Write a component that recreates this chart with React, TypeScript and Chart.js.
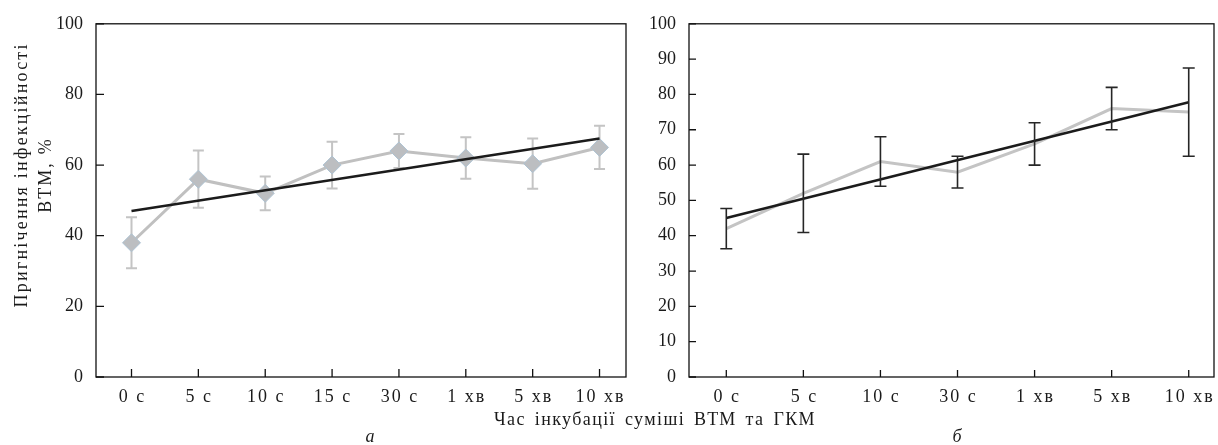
import React, { useEffect, useRef } from 'react';
import { Chart, registerables } from 'chart.js';

Chart.register(...registerables);

// ---- data (panel а) ----
const catsA = ['0 с', '5 с', '10 с', '15 с', '30 с', '1 хв', '5 хв', '10 хв'];
const meanA = [38, 56, 52, 60, 64, 62, 60.4, 65];
const errA = [7.2, 8.1, 4.8, 6.6, 4.8, 5.9, 7.1, 6.1];
const trendA = [47, 67.5];
const yTicksA = [0, 20, 40, 60, 80, 100];

// ---- data (panel б) ----
const catsB = ['0 с', '5 с', '10 с', '30 с', '1 хв', '5 хв', '10 хв'];
const meanB = [42, 52, 61, 58, 66, 76, 75];
const errB = [5.7, 11.1, 7, 4.5, 6, 6, 12.5];
const trendB = [45, 77.8];
const yTicksB = [0, 10, 20, 30, 40, 50, 60, 70, 80, 90, 100];

const yTitle = ['Пригнічення інфекційності', 'ВТМ, %'];
const xTitle = 'Час інкубації суміші ВТМ та ГКМ';
const panelA = 'а';
const panelB = 'б';

const FONT = '"Liberation Serif", "Times New Roman", serif';
const TXT = '#1a1a1a';

type OverlayCfg = {
  cats: string[];
  means: number[];
  errs: number[];
  errColor: string;
  errWidth: number;
  capHalf: number;
  layer: 'before' | 'after';
  tickLen: number;
  title?: string[];
};

function makeOverlay(cfg: OverlayCfg) {
  const drawErr = (chart: any) => {
    const ctx = chart.ctx;
    const xs = chart.scales.x;
    const ys = chart.scales.y;
    ctx.save();
    ctx.strokeStyle = cfg.errColor;
    ctx.lineWidth = cfg.errWidth;
    cfg.means.forEach((m, i) => {
      const x = xs.getPixelForValue(i);
      const y1 = ys.getPixelForValue(m + cfg.errs[i]);
      const y2 = ys.getPixelForValue(m - cfg.errs[i]);
      ctx.beginPath();
      ctx.moveTo(x, y1);
      ctx.lineTo(x, y2);
      ctx.moveTo(x - cfg.capHalf, y1);
      ctx.lineTo(x + cfg.capHalf, y1);
      ctx.moveTo(x - cfg.capHalf, y2);
      ctx.lineTo(x + cfg.capHalf, y2);
      ctx.stroke();
    });
    ctx.restore();
  };
  const drawFrame = (chart: any) => {
    const ctx = chart.ctx;
    const { left, right, top, bottom } = chart.chartArea;
    const xs = chart.scales.x;
    const ys = chart.scales.y;
    ctx.save();
    ctx.strokeStyle = '#111';
    ctx.lineWidth = 1.3;
    ctx.strokeRect(left, top, right - left, bottom - top);
    ctx.beginPath();
    ys.ticks.forEach((t: any) => {
      const y = ys.getPixelForValue(t.value);
      ctx.moveTo(left, y);
      ctx.lineTo(left + cfg.tickLen, y);
    });
    xs.ticks.forEach((t: any) => {
      const x = xs.getPixelForValue(t.value);
      ctx.moveTo(x, bottom);
      ctx.lineTo(x, bottom - cfg.tickLen);
    });
    ctx.stroke();

    // category labels (wider letter spacing, like the original typesetting)
    ctx.font = `18px ${FONT}`;
    ctx.fillStyle = TXT;
    ctx.textAlign = 'center';
    ctx.textBaseline = 'alphabetic';
    ctx.letterSpacing = '2px';
    cfg.cats.forEach((c, i) => {
      const x = xs.getPixelForValue(i);
      ctx.fillText(c, x + 1, bottom + 24.7);
    });

    // y axis title
    if (cfg.title) {
      ctx.letterSpacing = '2.2px';
      ctx.translate(0, 176);
      ctx.rotate(-Math.PI / 2);
      ctx.fillText(cfg.title[0], 1.1, 27);
      ctx.fillText(cfg.title[1], 1.1, 51);
    }
    ctx.restore();
  };
  return {
    id: 'overlay',
    beforeDatasetsDraw(chart: any) {
      if (cfg.layer === 'before') drawErr(chart);
    },
    afterDatasetsDraw(chart: any) {
      if (cfg.layer === 'after') drawErr(chart);
      drawFrame(chart);
    },
  };
}

function buildConfig(opts: {
  cats: string[];
  means: number[];
  trend: number[];
  yTicks: number[];
  xMin: number;
  xMax: number;
  yWidth: number;
  padRight: number;
  lineColor: string;
  markers: boolean;
  overlay: any;
}) {
  const n = opts.cats.length;
  return {
    type: 'line' as const,
    data: {
      datasets: [
        {
          label: 'trend',
          data: [
            { x: 0, y: opts.trend[0] },
            { x: n - 1, y: opts.trend[1] },
          ],
          borderColor: '#1b1b1b',
          borderWidth: 2.6,
          pointRadius: 0,
          tension: 0,
        },
        {
          label: 'values',
          data: opts.means.map((v, i) => ({ x: i, y: v })),
          borderColor: opts.lineColor,
          borderWidth: 3,
          tension: 0,
          pointStyle: 'rectRot',
          pointRadius: opts.markers ? 9 : 0,
          pointBackgroundColor: '#bcbec1',
          pointBorderColor: '#aec3d3',
          pointBorderWidth: 1,
        },
      ],
    },
    options: {
      responsive: false,
      animation: false as const,
      devicePixelRatio: 1,
      layout: { padding: { top: 14, right: opts.padRight, bottom: 0, left: 0 } },
      plugins: {
        legend: { display: false },
        tooltip: { enabled: false },
      },
      scales: {
        x: {
          type: 'linear' as const,
          min: opts.xMin,
          max: opts.xMax,
          grid: { display: false, drawTicks: false },
          border: { display: false },
          afterBuildTicks: (scale: any) => {
            scale.ticks = opts.cats.map((_, i) => ({ value: i }));
          },
          afterFit: (scale: any) => {
            scale.height = 68;
          },
          ticks: { display: false },
        },
        y: {
          min: 0,
          max: 100,
          grid: { display: false, drawTicks: false },
          border: { display: false },
          afterBuildTicks: (scale: any) => {
            scale.ticks = opts.yTicks.map((v) => ({ value: v }));
          },
          afterFit: (scale: any) => {
            scale.width = opts.yWidth;
          },
          ticks: {
            padding: 13,
            color: TXT,
            font: { family: FONT, size: 18 },
          },
        },
      },
    },
    plugins: [opts.overlay],
  };
}

function Panel(props: { left: number; width: number; cfg: any }) {
  const ref = useRef<HTMLCanvasElement | null>(null);
  useEffect(() => {
    if (!ref.current) return;
    const chart = new Chart(ref.current, props.cfg);
    return () => chart.destroy();
  }, []);
  return (
    <canvas
      ref={ref}
      width={props.width}
      height={445}
      style={{ position: 'absolute', left: props.left, top: 0, width: props.width, height: 445 }}
    />
  );
}

export default function App() {
  const cfgA = buildConfig({
    cats: catsA,
    means: meanA,
    trend: trendA,
    yTicks: yTicksA,
    xMin: -0.531,
    xMax: 7.396,
    yWidth: 96,
    padRight: 10,
    lineColor: '#c0c0c0',
    markers: true,
    overlay: makeOverlay({
      cats: catsA,
      means: meanA,
      errs: errA,
      errColor: '#c4c4c4',
      errWidth: 2,
      capHalf: 5.5,
      layer: 'before',
      tickLen: 8,
      title: yTitle,
    }),
  });
  const cfgB = buildConfig({
    cats: catsB,
    means: meanB,
    trend: trendB,
    yTicks: yTicksB,
    xMin: -0.484,
    xMax: 6.328,
    yWidth: 53,
    padRight: 4,
    lineColor: '#c4c4c4',
    markers: false,
    overlay: makeOverlay({
      cats: catsB,
      means: meanB,
      errs: errB,
      errColor: '#262626',
      errWidth: 1.6,
      capHalf: 6,
      layer: 'after',
      tickLen: 7,
    }),
  });
  const label: React.CSSProperties = {
    position: 'absolute',
    fontFamily: FONT,
    fontSize: 18,
    lineHeight: '18px',
    color: TXT,
    whiteSpace: 'nowrap',
    transform: 'translateX(-50%)',
  };
  return (
    <div style={{ position: 'absolute', left: 0, top: 0, width: 1218, height: 445, background: '#fff', overflow: 'hidden' }}>
      <Panel left={0} width={636} cfg={cfgA} />
      <Panel left={636} width={582} cfg={cfgB} />
      <div style={{ ...label, left: 655, top: 410, letterSpacing: '1.4px', wordSpacing: '3px' }}>{xTitle}</div>
      <div style={{ ...label, left: 370, top: 427, fontStyle: 'italic' }}>{panelA}</div>
      <div style={{ ...label, left: 957, top: 427, fontStyle: 'italic' }}>{panelB}</div>
    </div>
  );
}
